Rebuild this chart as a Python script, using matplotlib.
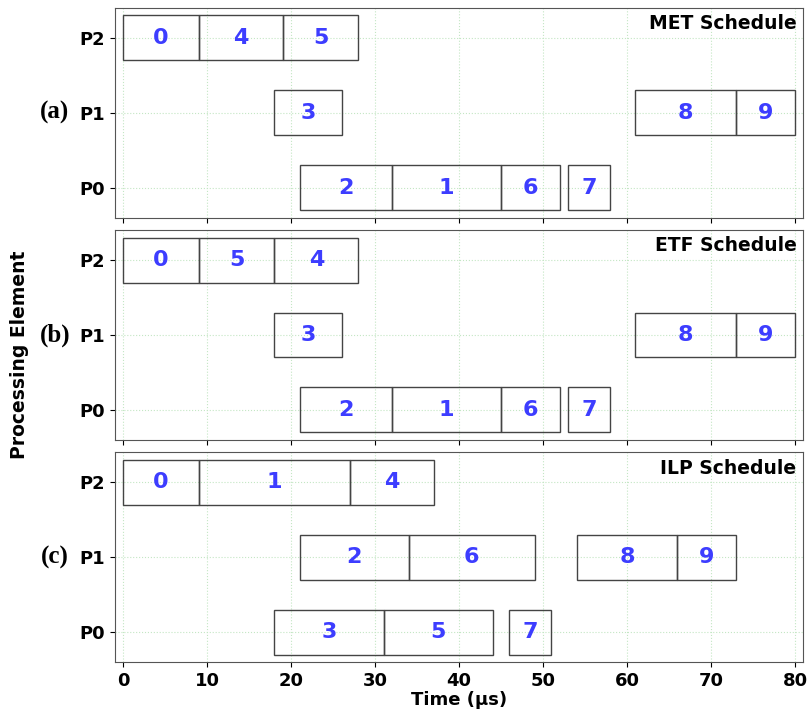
"""Gantt-style comparison of MET, ETF and ILP schedules on three PEs."""

import matplotlib

matplotlib.use("Agg")
import matplotlib.pyplot as plt

PES = ["P0", "P1", "P2"]
SCHEDULES = ["MET Schedule", "ETF Schedule", "ILP Schedule"]
PANEL_TAGS = ["(a)", "(b)", "(c)"]

# (task, pe index, start, end) per schedule
MET_TASKS = [
    (0, 2, 0, 9), (4, 2, 9, 19), (5, 2, 19, 28),
    (3, 1, 18, 26), (8, 1, 61, 73), (9, 1, 73, 80),
    (2, 0, 21, 32), (1, 0, 32, 45), (6, 0, 45, 52), (7, 0, 53, 58),
]
ETF_TASKS = [
    (0, 2, 0, 9), (5, 2, 9, 18), (4, 2, 18, 28),
    (3, 1, 18, 26), (8, 1, 61, 73), (9, 1, 73, 80),
    (2, 0, 21, 32), (1, 0, 32, 45), (6, 0, 45, 52), (7, 0, 53, 58),
]
ILP_TASKS = [
    (0, 2, 0, 9), (1, 2, 9, 27), (4, 2, 27, 37),
    (2, 1, 21, 34), (6, 1, 34, 49), (8, 1, 54, 66), (9, 1, 66, 73),
    (3, 0, 18, 31), (5, 0, 31, 44), (7, 0, 46, 51),
]
X_TICKS = [0, 10, 20, 30, 40, 50, 60, 70, 80]


def main() -> None:
    fig, axes = plt.subplots(3, 1, figsize=(8.09, 7.09), dpi=100, sharex=True)
    fig.subplots_adjust(left=0.142, right=0.993, top=0.989, bottom=0.066, hspace=0.06)

    for ax, tasks, title, tag in zip(axes, [MET_TASKS, ETF_TASKS, ILP_TASKS], SCHEDULES, PANEL_TAGS):
        for task, pe, start, end in tasks:
            ax.barh(pe, end - start, left=start, height=0.6, fill=False,
                    edgecolor="#444444", linewidth=1.0, zorder=3)
            ax.text((start + end) / 2, pe, str(task), ha="center", va="center",
                    color="#3d3dff", fontsize=16, fontweight="bold", zorder=4)

        ax.set_xlim(-1, 81)
        ax.set_ylim(-0.4, 2.4)
        ax.set_yticks(range(len(PES)))
        ax.set_yticklabels(PES, fontsize=13, fontweight="bold")
        ax.set_xticks(X_TICKS)
        ax.grid(True, color="#c4e6c4", linestyle=":", linewidth=0.8, zorder=0)
        ax.set_axisbelow(True)
        for sp in ax.spines.values():
            sp.set_color("#555555")
        ax.text(0.99, 0.97, title, transform=ax.transAxes, ha="right", va="top",
                fontsize=13.5, fontweight="bold")
        ax.text(-0.087, 0.5, tag, transform=ax.transAxes, ha="center", va="center",
                fontsize=18, fontweight="bold", family="Liberation Serif")

    axes[-1].set_xticklabels([str(t) for t in X_TICKS], fontsize=13, fontweight="bold")
    axes[-1].set_xlabel("Time (μs)", fontsize=13, fontweight="bold", labelpad=1)
    fig.text(0.024, 0.5, "Processing Element", rotation=90, ha="center", va="center",
             fontsize=13.5, fontweight="bold")

    fig.savefig("out.png")


if __name__ == "__main__":
    main()
